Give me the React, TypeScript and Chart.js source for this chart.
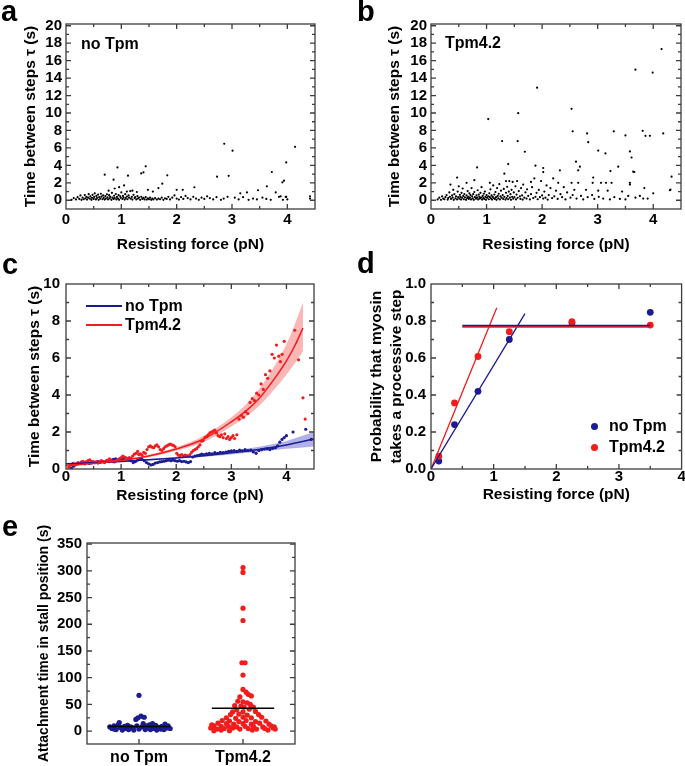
import React, { useEffect, useRef } from "react";
import { Chart, registerables } from "chart.js";

Chart.register(...registerables);

const FONT = '"Liberation Sans", Arial, Helvetica, sans-serif';
const FRAME = "#3c3c3c";
const BLUE = "#1b1b92";
const RED = "#f21c1c";
const RED_BAND = "rgba(242, 40, 40, 0.34)";
const BLUE_BAND = "rgba(40, 40, 190, 0.36)";

// ---------------- panel a : no Tpm, time between steps vs force ----------------
const aPoints: [number, number][] = [
  [0.10, 0.05], [0.14, 0.25], [0.18, 0.10], [0.21, 0.35], [0.24, 0.15], [0.26, 0.55], [0.28, 0.05], [0.30, 0.30],
  [0.32, 0.12], [0.34, 0.60], [0.35, 0.22], [0.37, 0.40], [0.38, 0.08], [0.40, 0.30], [0.41, 0.70], [0.43, 0.18],
  [0.44, 0.45], [0.46, 0.05], [0.47, 0.28], [0.48, 0.62], [0.50, 0.15], [0.51, 0.38], [0.52, 0.80], [0.54, 0.10],
  [0.55, 0.50], [0.56, 0.25], [0.58, 0.65], [0.59, 0.05], [0.60, 0.35], [0.62, 0.18], [0.63, 0.75], [0.64, 0.42],
  [0.66, 0.12], [0.67, 0.55], [0.68, 0.28], [0.70, 0.08], [0.71, 0.48], [0.72, 0.20], [0.74, 0.68], [0.75, 0.33],
  [0.76, 0.10], [0.78, 0.58], [0.79, 0.22], [0.80, 0.40], [0.82, 0.05], [0.83, 0.85], [0.84, 0.30], [0.86, 0.15],
  [0.87, 0.52], [0.88, 0.25], [0.90, 0.72], [0.91, 0.10], [0.92, 0.38], [0.94, 0.20], [0.95, 0.60], [0.96, 0.05],
  [0.98, 0.45], [0.99, 0.28], [1.00, 0.90], [1.02, 0.15], [1.03, 0.50], [1.04, 0.32], [1.06, 0.08], [1.07, 0.70],
  [1.08, 0.25], [1.10, 0.42], [1.11, 0.12], [1.13, 0.55], [1.14, 0.30], [1.16, 1.05], [1.17, 0.18], [1.19, 0.40],
  [1.20, 0.08], [1.22, 0.62], [1.24, 0.25], [1.25, 0.35], [1.27, 0.10], [1.29, 0.48], [1.30, 0.20], [1.32, 0.30],
  [1.34, 0.05], [1.36, 0.40], [1.38, 0.15], [1.40, 0.28], [1.42, 0.10], [1.44, 0.35], [1.46, 0.08], [1.48, 0.22],
  [1.50, 0.12], [1.52, 0.30], [1.54, 0.05], [1.56, 0.18], [1.58, 0.10], [1.61, 0.25], [1.64, 0.08], [1.67, 0.20],
  [1.70, 0.12], [1.73, 0.30], [1.76, 0.05], [1.79, 0.22], [1.82, 0.15], [1.85, 0.40], [1.88, 0.10], [1.92, 0.30],
  [1.96, 0.55], [2.00, 0.20], [2.04, 0.08], [2.08, 0.35], [2.12, 0.15], [2.16, 0.50], [2.20, 0.25], [2.25, 0.10],
  [2.30, 0.40], [2.35, 0.20], [2.40, 0.05], [2.45, 0.30], [2.50, 0.15], [2.55, 0.45], [2.60, 0.25], [2.66, 0.10],
  [2.72, 0.35], [2.80, 0.05], [2.85, 0.20], [2.92, 0.40], [3.05, 0.30], [3.12, 0.10], [3.20, 0.35], [3.30, 0.05],
  [3.38, 0.20], [3.45, 0.10], [3.55, 0.30], [3.62, 0.15], [3.70, 0.05], [3.88, 0.45], [3.92, 0.05], [3.98, 0.40],
  [4.00, 0.10],
  [0.70, 2.93], [0.86, 2.36], [0.93, 3.77], [1.12, 2.82], [1.36, 3.08], [1.40, 3.20], [1.44, 3.89], [1.83, 2.86],
  [1.74, 1.90], [1.67, 1.40], [1.57, 1.00], [1.48, 1.20], [2.86, 6.48], [3.01, 5.68], [2.73, 2.70], [2.94, 2.80],
  [2.32, 1.49], [2.00, 1.20], [2.11, 1.20], [3.15, 0.80], [3.27, 0.90], [3.47, 1.15], [3.63, 1.60], [3.72, 3.24],
  [3.91, 2.06], [3.94, 2.25], [3.98, 4.34], [4.14, 6.13], [3.79, 0.90], [3.85, 0.40], [3.97, 0.40], [4.41, 0.45],
  [4.41, 0.20], [0.77, 1.10], [0.88, 1.35], [0.96, 1.50], [1.05, 1.70], [1.20, 1.10], [1.28, 0.95], [1.10, 1.00],
];

// ---------------- panel b : Tpm4.2, time between steps vs force ----------------
const bPoints: [number, number][] = [
  [0.12, 0.10], [0.15, 0.30], [0.18, 0.05], [0.20, 0.45], [0.22, 0.20], [0.24, 0.12], [0.26, 0.35], [0.28, 0.60],
  [0.30, 0.08], [0.31, 0.25], [0.33, 0.90], [0.34, 0.40], [0.35, 1.80], [0.36, 0.15], [0.38, 0.55], [0.39, 0.30],
  [0.40, 1.20], [0.41, 0.05], [0.42, 0.70], [0.44, 0.22], [0.45, 0.45], [0.47, 2.60], [0.47, 0.10], [0.48, 1.00],
  [0.49, 0.35], [0.50, 1.60], [0.51, 0.18], [0.52, 0.62], [0.53, 0.40], [0.54, 0.08], [0.55, 0.85], [0.56, 0.28],
  [0.57, 1.35], [0.58, 0.50], [0.59, 0.12], [0.60, 0.72], [0.61, 0.33], [0.64, 2.00], [0.63, 0.05], [0.64, 0.55],
  [0.65, 0.25], [0.66, 1.05], [0.67, 0.40], [0.68, 0.15], [0.69, 0.80], [0.70, 0.30], [0.71, 0.60], [0.72, 0.10],
  [0.73, 1.40], [0.74, 0.45], [0.75, 0.22], [0.76, 0.70], [0.77, 0.05], [0.78, 0.95], [0.79, 0.35], [0.78, 2.30],
  [0.81, 0.18], [0.82, 0.55], [0.83, 0.30], [0.84, 1.15], [0.85, 0.10], [0.86, 0.65], [0.87, 0.40], [0.88, 0.20],
  [0.89, 0.85], [0.90, 0.30], [0.91, 1.50], [0.92, 0.08], [0.93, 0.50], [0.94, 0.25], [0.95, 0.75], [0.96, 0.15],
  [0.97, 1.00], [0.98, 0.38], [0.99, 0.05], [1.00, 0.60], [1.01, 0.28], [1.06, 2.00], [1.03, 0.45], [1.04, 0.12],
  [1.05, 0.80], [1.06, 0.35], [1.07, 1.25], [1.08, 0.20], [1.09, 0.55], [1.10, 0.08], [1.11, 0.40], [1.12, 1.70],
  [1.13, 0.25], [1.14, 0.65], [1.15, 0.15], [1.16, 0.95], [1.17, 0.35], [1.18, 0.05], [1.19, 1.40], [1.20, 0.50],
  [1.21, 0.22], [1.22, 0.75], [1.23, 1.85], [1.24, 0.10], [1.25, 0.45], [1.26, 1.10], [1.27, 0.30], [1.35, 2.20],
  [1.29, 0.60], [1.30, 0.15], [1.31, 1.30], [1.32, 0.40], [1.32, 3.05], [1.34, 0.08], [1.35, 0.85], [1.36, 0.25],
  [1.37, 1.55], [1.38, 0.50], [1.39, 0.12], [1.40, 1.00], [1.41, 2.20], [1.42, 0.30], [1.43, 0.70], [1.44, 0.05],
  [1.45, 1.20], [1.46, 0.40], [1.47, 2.10], [1.48, 0.18], [1.49, 0.90], [1.50, 0.35], [1.52, 1.60], [1.53, 0.10],
  [1.54, 0.65], [1.55, 2.20], [1.56, 0.28], [1.58, 1.05], [1.60, 0.45], [1.61, 0.15], [1.62, 1.40], [1.64, 0.55],
  [1.65, 0.08], [1.66, 1.80], [1.68, 0.30], [1.70, 0.90], [1.72, 0.20], [1.73, 1.25], [1.75, 0.50], [1.80, 2.10],
  [1.78, 0.10], [1.80, 0.70], [1.82, 1.50], [1.84, 0.25], [1.86, 2.50], [1.88, 0.40], [1.90, 0.85], [1.92, 0.12],
  [1.94, 1.20], [1.96, 0.35], [1.98, 2.20], [2.00, 0.55], [2.02, 0.20], [2.04, 1.00], [2.06, 0.30], [2.08, 1.70],
  [2.10, 0.08], [2.12, 0.60], [2.15, 1.40], [2.18, 0.25], [2.20, 2.50], [2.22, 0.45], [2.25, 1.10], [2.28, 0.15],
  [2.29, 2.00], [2.33, 0.70], [2.36, 0.35], [2.39, 1.50], [2.42, 0.10], [2.45, 0.90], [2.53, 2.00], [2.51, 0.30],
  [2.55, 0.60], [2.58, 1.20], [2.62, 0.20], [2.65, 2.00], [2.70, 0.50], [2.74, 0.10], [2.79, 1.20], [2.82, 0.35],
  [2.91, 2.00], [2.90, 0.60], [2.94, 0.15], [2.92, 2.60], [3.02, 0.40], [3.06, 2.00], [3.10, 0.20], [3.01, 1.10],
  [3.15, 2.00], [3.22, 0.10], [3.18, 1.10], [3.30, 0.35], [3.25, 2.00], [3.40, 0.15], [3.44, 1.00], [3.50, 0.10],
  [3.55, 0.50], [3.58, 2.00], [3.68, 0.30], [3.76, 0.50], [3.82, 0.20], [3.84, 1.40], [3.90, 0.20], [4.00, 0.80],
  [4.30, 1.15], [4.31, 1.22],
  [1.03, 9.30], [1.28, 6.78], [1.57, 9.98], [1.56, 6.78], [1.69, 5.56], [1.91, 12.90], [1.88, 3.96], [2.02, 3.70],
  [2.02, 3.23], [1.39, 4.15], [0.83, 3.77], [2.53, 10.48], [2.55, 7.90], [2.81, 7.66], [2.83, 6.66], [3.01, 5.70],
  [3.14, 5.37], [3.29, 7.90], [3.50, 7.43], [3.58, 5.60], [3.61, 4.90], [3.66, 3.24], [3.68, 14.97], [3.99, 14.63],
  [4.15, 17.33], [3.81, 7.96], [3.86, 7.39], [3.94, 7.39], [4.18, 7.66], [4.33, 2.70], [2.61, 4.42], [2.65, 3.43],
  [2.68, 3.85], [2.32, 3.43], [3.37, 3.85], [3.23, 3.35], [3.64, 3.28], [3.58, 1.80],
];

// ---------------- panel c : running values and exponential fits ----------------
const cRedPoints: [number, number][] = [
  [0.05, 0.10], [0.08, 0.20], [0.10, 0.25], [0.13, 0.30], [0.16, 0.22], [0.19, 0.28], [0.22, 0.35], [0.25, 0.30],
  [0.28, 0.38], [0.31, 0.42], [0.34, 0.35], [0.37, 0.40], [0.40, 0.45], [0.43, 0.50], [0.46, 0.42], [0.49, 0.38],
  [0.52, 0.35], [0.55, 0.40], [0.58, 0.32], [0.61, 0.38], [0.64, 0.45], [0.67, 0.40], [0.70, 0.35], [0.73, 0.42],
  [0.76, 0.48], [0.79, 0.55], [0.82, 0.45], [0.85, 0.40], [0.88, 0.38], [0.91, 0.45], [0.94, 0.50], [0.97, 0.55],
  [1.00, 0.62], [1.03, 0.70], [1.06, 0.65], [1.09, 0.60], [1.12, 0.55], [1.15, 0.62], [1.18, 0.58], [1.21, 0.70],
  [1.24, 0.80], [1.27, 0.85], [1.30, 0.95], [1.32, 0.78], [1.35, 0.82], [1.38, 0.75], [1.41, 0.90], [1.44, 0.85],
  [1.47, 1.05], [1.50, 1.20], [1.53, 1.25], [1.56, 1.18], [1.59, 1.15], [1.62, 1.25], [1.65, 1.30], [1.68, 1.20],
  [1.71, 1.05], [1.74, 1.00], [1.77, 1.10], [1.80, 1.20], [1.83, 1.25], [1.86, 1.30], [1.89, 1.35], [1.92, 1.30],
  [1.95, 1.28], [1.98, 1.20], [2.01, 0.85], [2.04, 0.75], [2.07, 0.72], [2.10, 0.78], [2.13, 0.70], [2.16, 0.75],
  [2.19, 0.72], [2.22, 0.70], [2.25, 0.78], [2.28, 0.90], [2.31, 1.00], [2.34, 1.05], [2.37, 1.10], [2.40, 1.20],
  [2.43, 1.30], [2.46, 1.50], [2.49, 1.55], [2.52, 1.70], [2.55, 1.75], [2.58, 1.85], [2.61, 1.95], [2.64, 2.00],
  [2.67, 2.05], [2.70, 2.10], [2.73, 1.95], [2.76, 1.80], [2.79, 1.75], [2.82, 1.85], [2.85, 1.70], [2.88, 1.90],
  [2.91, 1.65], [2.94, 1.75], [2.97, 1.60], [3.00, 1.70], [3.03, 1.80], [3.06, 1.65], [3.10, 1.85], [3.14, 2.70],
  [3.18, 2.90], [3.22, 2.80], [3.26, 3.10], [3.30, 3.00], [3.34, 3.60], [3.38, 3.80], [3.42, 3.70], [3.46, 4.10],
  [3.50, 4.00], [3.54, 4.60], [3.58, 4.30], [3.62, 5.10], [3.66, 4.90], [3.70, 5.30], [3.74, 6.20], [3.78, 6.00],
  [3.82, 6.70], [3.86, 6.10], [3.89, 5.80], [3.92, 6.20], [3.96, 6.90], [4.15, 7.50], [4.22, 5.90], [4.30, 3.85],
  [4.34, 2.70],
];
const cBluePoints: [number, number][] = [
  [0.10, 0.05], [0.14, 0.15], [0.18, 0.25], [0.22, 0.28], [0.26, 0.30], [0.30, 0.32], [0.34, 0.28], [0.38, 0.35],
  [0.42, 0.30], [0.46, 0.33], [0.50, 0.38], [0.54, 0.35], [0.58, 0.40], [0.62, 0.36], [0.66, 0.42], [0.70, 0.38],
  [0.74, 0.45], [0.78, 0.40], [0.82, 0.48], [0.86, 0.52], [0.90, 0.55], [0.94, 0.50], [0.98, 0.55], [1.02, 0.52],
  [1.06, 0.58], [1.10, 0.55], [1.14, 0.50], [1.18, 0.45], [1.22, 0.35], [1.26, 0.40], [1.30, 0.48], [1.34, 0.55],
  [1.38, 0.52], [1.42, 0.45], [1.46, 0.35], [1.50, 0.28], [1.54, 0.22], [1.58, 0.25], [1.62, 0.32], [1.66, 0.35],
  [1.70, 0.38], [1.74, 0.40], [1.78, 0.42], [1.82, 0.45], [1.86, 0.48], [1.90, 0.45], [1.94, 0.48], [1.98, 0.45],
  [2.02, 0.42], [2.06, 0.45], [2.10, 0.40], [2.14, 0.42], [2.18, 0.38], [2.22, 0.35], [2.26, 0.40], [2.30, 0.65],
  [2.34, 0.70], [2.38, 0.72], [2.42, 0.75], [2.46, 0.80], [2.50, 0.78], [2.55, 0.82], [2.60, 0.85], [2.65, 0.82],
  [2.70, 0.88], [2.75, 0.85], [2.80, 0.90], [2.85, 0.88], [2.90, 0.92], [2.95, 0.95], [3.00, 0.98], [3.05, 1.00],
  [3.10, 0.95], [3.15, 1.02], [3.20, 0.98], [3.25, 1.05], [3.30, 1.00], [3.35, 1.02], [3.40, 0.92], [3.45, 0.85],
  [3.50, 1.00], [3.55, 1.05], [3.60, 1.08], [3.65, 1.10], [3.70, 1.05], [3.75, 1.12], [3.80, 1.15], [3.84, 1.25],
  [3.88, 1.45], [3.92, 1.60], [3.96, 1.70], [4.00, 1.80], [4.12, 2.00], [4.35, 2.15], [4.45, 1.60],
];
const cRedFitX = [0, 0.5, 1.0, 1.5, 2.0, 2.5, 3.0, 3.25, 3.5, 3.75, 4.0, 4.15, 4.3];
const cRedFit = [0.20, 0.30, 0.46, 0.70, 1.08, 1.62, 2.55, 3.10, 3.80, 4.75, 5.85, 6.65, 7.62];
const cRedUpper = [0.22, 0.33, 0.50, 0.77, 1.18, 1.80, 2.80, 3.45, 4.30, 5.40, 6.75, 7.80, 9.00];
const cRedLower = [0.18, 0.27, 0.42, 0.64, 0.98, 1.46, 2.30, 2.78, 3.40, 4.20, 5.10, 5.70, 6.35];
const cBlueFitX = [0, 0.5, 1.0, 1.5, 2.0, 2.5, 3.0, 3.5, 4.0, 4.5];
const cBlueFit = [0.28, 0.34, 0.41, 0.50, 0.60, 0.72, 0.88, 1.06, 1.30, 1.62];
const cBlueUpper = [0.31, 0.37, 0.44, 0.54, 0.65, 0.79, 0.97, 1.20, 1.52, 2.00];
const cBlueLower = [0.25, 0.31, 0.38, 0.46, 0.55, 0.66, 0.79, 0.93, 1.09, 1.22];
const cSeries = ["no Tpm", "Tpm4.2"];

// ---------------- panel d : probability of a processive step ----------------
const dForce = [0.125, 0.375, 0.75, 1.25, 2.25, 3.5];
const dNoTpm = [0.043, 0.24, 0.42, 0.70, 0.79, 0.847];
const dTpm = [0.069, 0.357, 0.608, 0.742, 0.796, 0.778];
const dNoTpmRiseX = [0, 1.5];
const dNoTpmRiseY = [0, 0.84];
const dTpmRiseX = [0, 1.05];
const dTpmRiseY = [0, 0.872];
const dPlateauX = [0.5, 3.5];
const dNoTpmPlateau = [0.776, 0.776];
const dTpmPlateau = [0.769, 0.769];

// ---------------- panel e : attachment time in stall position ----------------
const eCategories = ["no Tpm", "Tpm4.2"];
const eNoTpm: [number, number][] = [
  [0.72, 8], [0.74, 5], [0.76, 10], [0.78, 3], [0.80, 12], [0.81, 16], [0.82, 7], [0.84, 2], [0.86, 9], [0.87, 5],
  [0.89, 11], [0.90, 3], [0.92, 8], [0.94, 6], [0.95, 2], [0.97, 22], [0.98, 10], [0.99, 25], [1.00, 67], [1.00, 4],
  [1.02, 28], [1.03, 8], [1.04, 14], [1.05, 26], [1.06, 3], [1.07, 10], [1.08, 6], [1.10, 12], [1.11, 3], [1.12, 8],
  [1.14, 5], [1.16, 11], [1.17, 2], [1.19, 7], [1.21, 4], [1.22, 9], [1.24, 3], [1.25, 13], [1.27, 6], [1.28, 10],
  [1.30, 5], [0.76, 4], [0.88, 7], [1.13, 14],
];
const eTpm: [number, number][] = [
  [2.00, 306], [2.00, 297], [2.00, 230], [2.00, 207], [1.99, 128], [2.02, 128], [2.00, 105],
  [2.00, 78], [2.03, 73], [2.05, 69], [1.97, 64], [2.08, 66], [1.95, 56], [2.00, 55], [2.04, 53], [2.07, 50],
  [1.92, 48], [1.98, 47], [2.01, 45], [2.10, 45], [1.94, 40], [2.06, 41], [1.90, 36], [2.00, 36], [2.12, 37],
  [1.88, 31], [1.96, 32], [2.04, 30], [2.15, 31], [1.84, 25], [1.93, 24], [2.00, 26], [2.08, 25], [2.18, 26],
  [1.80, 20], [1.87, 19], [1.96, 18], [2.03, 20], [2.12, 18], [2.22, 19], [1.76, 15], [1.84, 14], [1.91, 13],
  [2.00, 14], [2.08, 13], [2.16, 15], [2.25, 13], [1.72, 10], [1.79, 9], [1.86, 9], [1.94, 8], [2.02, 9],
  [2.10, 9], [2.19, 8], [2.27, 10], [1.69, 6], [1.75, 4], [1.82, 5], [1.90, 6], [1.97, 4], [2.05, 5], [2.13, 4],
  [2.21, 5], [2.29, 6], [1.72, 1], [1.79, 2], [1.87, 1], [2.09, 2], [2.24, 2], [2.31, 4], [1.70, 12], [2.30, 8],
];
const eMeanNoTpm = 8.75;
const eMeanTpm = 43;
const eMeanHalfWidth = 0.3;

// ---------------- helpers ----------------
const xy = (p: [number, number][]) => p.map(([x, y]) => ({ x, y }));
const zipXY = (xs: number[], ys: number[]) => xs.map((x, i) => ({ x, y: ys[i] }));

const framePlugin = {
  id: "frame",
  afterDatasetsDraw(chart: any, _args: any, o: any) {
    const { ctx, chartArea: ca } = chart;
    const sx = chart.scales.x;
    const sy = chart.scales.y;
    ctx.save();
    ctx.strokeStyle = FRAME;
    ctx.lineWidth = 1.3;
    ctx.beginPath();
    const seg = (x1: number, y1: number, x2: number, y2: number) => {
      ctx.moveTo(x1, y1);
      ctx.lineTo(x2, y2);
    };
    const near = (a: number, b: number) => Math.abs(a - b) < 1e-6;
    const each = (scale: any, step: number | null, fn: (v: number, major: boolean) => void) => {
      const majors: number[] = scale.ticks.map((t: any) => t.value);
      majors.forEach((v) => fn(v, true));
      if (step) {
        const start = Math.ceil(scale.min / step - 1e-9);
        for (let k = start; k * step <= scale.max + 1e-9; k++) {
          const v = k * step;
          if (majors.some((m) => near(m, v))) continue;
          fn(v, false);
        }
      }
    };
    each(sx, o.xMinor, (v, major) => {
      const p = sx.getPixelForValue(v);
      if (p <= ca.left + 0.5 || p >= ca.right - 0.5) return;
      const L = major ? 5 : 3;
      seg(p, ca.bottom, p, ca.bottom - L);
      if (o.xTop) seg(p, ca.top, p, ca.top + L);
    });
    each(sy, o.yMinor, (v, major) => {
      const p = sy.getPixelForValue(v);
      if (p <= ca.top + 0.5 || p >= ca.bottom - 0.5) return;
      const L = major ? 5 : 3;
      seg(ca.left, p, ca.left + L, p);
      seg(ca.right, p, ca.right - L, p);
    });
    ctx.stroke();
    ctx.strokeRect(ca.left, ca.top, ca.right - ca.left, ca.bottom - ca.top);
    ctx.restore();
  },
};

type AxisCfg = {
  min: number;
  max: number;
  step: number;
  tickPad: number;
  tickSize?: number;
  title: string | string[];
  titlePad: number;
  titleSize?: number;
  titleLH?: number;
  fmt?: (v: number) => string;
  ticksAt?: number[];
};
type Layout = { yW: number; xH: number; top: number; right: number };

function makeConfig(datasets: any[], lay: Layout, xa: AxisCfg, ya: AxisCfg, frame: any) {
  const axis = (a: AxisCfg, isX: boolean) => {
    const ticks: any = {
      stepSize: a.step,
      includeBounds: false,
      autoSkip: false,
      maxRotation: 0,
      minRotation: 0,
      color: "#000",
      font: { family: FONT, size: a.tickSize ?? 15, weight: "bold", lineHeight: 1 },
      padding: a.tickPad,
    };
    if (a.fmt) ticks.callback = (v: any) => a.fmt!(Number(v));
    const cfg: any = {
      type: "linear",
      position: isX ? "bottom" : "left",
      min: a.min,
      max: a.max,
      grid: { display: false, drawTicks: false },
      border: { display: false },
      ticks,
      title: {
        display: !!(Array.isArray(a.title) ? a.title.length : a.title),
        text: a.title,
        color: "#000",
        font: { family: FONT, size: a.titleSize ?? 15.5, weight: "bold", lineHeight: a.titleLH ?? 1 },
        padding: isX ? { top: 0, bottom: a.titlePad } : { top: a.titlePad, bottom: 0 },
      },
      afterFit: (s: any) => {
        if (isX) {
          s.height = lay.xH;
          s.paddingLeft = 0;
          s.paddingRight = 0;
        } else {
          s.width = lay.yW;
          s.paddingTop = 0;
          s.paddingBottom = 0;
        }
      },
    };
    if (a.ticksAt) {
      const vals = a.ticksAt;
      cfg.afterBuildTicks = (s: any) => {
        s.ticks = vals.map((v) => ({ value: v }));
      };
    }
    return cfg;
  };
  return {
    type: "scatter",
    data: { datasets },
    options: {
      responsive: false,
      animation: false,
      events: [],
      layout: { padding: { left: 0, top: lay.top, right: lay.right, bottom: 0 } },
      plugins: { legend: { display: false }, tooltip: { enabled: false }, frame },
      scales: { x: axis(xa, true), y: axis(ya, false) },
    },
    plugins: [framePlugin],
  };
}

const dots = (data: any[], color: string, r: number) => ({
  type: "scatter",
  data,
  backgroundColor: color,
  borderColor: color,
  borderWidth: 0,
  pointRadius: r,
  pointHoverRadius: r,
  showLine: false,
});
const line = (data: any[], color: string, w: number, smooth = false) => ({
  type: "line",
  data,
  borderColor: color,
  backgroundColor: color,
  borderWidth: w,
  pointRadius: 0,
  fill: false,
  cubicInterpolationMode: smooth ? "monotone" : "default",
  tension: 0,
});
const band = (data: any[], color: string, fill: any) => ({
  type: "line",
  data,
  borderWidth: 0,
  borderColor: "rgba(0,0,0,0)",
  backgroundColor: color,
  pointRadius: 0,
  fill,
  cubicInterpolationMode: "monotone",
});

const timeTitle = "Time between steps \u03c4 (s)";
const forceTitle = "Resisting force (pN)";

function configA() {
  return makeConfig(
    [dots(xy(aPoints), "#000", 1.1)],
    { yW: 66, xH: 53, top: 24, right: 27 },
    { min: 0, max: 4.5, step: 1, tickPad: 3, title: forceTitle, titlePad: 10 },
    { min: -1, max: 20.2, step: 2, tickPad: 4, title: timeTitle, titlePad: 23 },
    { xMinor: 0.5, yMinor: 1, xTop: true }
  );
}
function configB() {
  return makeConfig(
    [dots(xy(bPoints), "#000", 1.1)],
    { yW: 66, xH: 53, top: 24, right: 4 },
    { min: 0, max: 4.5, step: 1, tickPad: 3, title: forceTitle, titlePad: 10 },
    { min: -1, max: 20.2, step: 2, tickPad: 4, title: timeTitle, titlePad: 22 },
    { xMinor: 0.5, yMinor: 1, xTop: true }
  );
}
function configC() {
  return makeConfig(
    [
      line(zipXY(cRedFitX, cRedFit), RED, 1.5, true),
      line(zipXY(cBlueFitX, cBlueFit), BLUE, 1.5, true),
      dots(xy(cRedPoints), RED, 1.6),
      dots(xy(cBluePoints), BLUE, 1.6),
      band(zipXY(cRedFitX, cRedUpper), RED_BAND, "+1"),
      band(zipXY(cRedFitX, cRedLower), RED_BAND, false),
      band(zipXY(cBlueFitX, cBlueUpper), BLUE_BAND, "+1"),
      band(zipXY(cBlueFitX, cBlueLower), BLUE_BAND, false),
    ],
    { yW: 66, xH: 55, top: 22, right: 28 },
    { min: 0, max: 4.5, step: 1, tickPad: 0, title: forceTitle, titlePad: 21 },
    { min: 0, max: 10, step: 2, tickPad: 6, title: timeTitle, titlePad: 27 },
    { xMinor: 0.5, yMinor: 1, xTop: true }
  );
}
function configD() {
  return makeConfig(
    [
      line(zipXY(dPlateauX, dNoTpmPlateau), BLUE, 1.5),
      line(zipXY(dPlateauX, dTpmPlateau), RED, 2),
      line(zipXY(dNoTpmRiseX, dNoTpmRiseY), BLUE, 1.3),
      line(zipXY(dTpmRiseX, dTpmRiseY), RED, 1.3),
      dots(zipXY(dForce, dTpm), RED, 3.4),
      dots(zipXY(dForce, dNoTpm), BLUE, 3.4),
    ],
    { yW: 89, xH: 55, top: 22, right: 3 },
    { min: 0, max: 4, step: 1, tickPad: 0, title: forceTitle, titlePad: 22 },
    {
      min: 0,
      max: 1,
      step: 0.2,
      tickPad: 5,
      title: ["Probability that myosin", "takes a processive step"],
      titlePad: 25,
      titleLH: 1.28,
      fmt: (v) => v.toFixed(1),
    },
    { xMinor: 0.5, yMinor: 0.1, xTop: true }
  );
}
function configE() {
  return makeConfig(
    [
      line(
        [
          { x: 1 - eMeanHalfWidth, y: eMeanNoTpm },
          { x: 1 + eMeanHalfWidth, y: eMeanNoTpm },
        ],
        "#000",
        1.5
      ),
      line(
        [
          { x: 2 - eMeanHalfWidth, y: eMeanTpm },
          { x: 2 + eMeanHalfWidth, y: eMeanTpm },
        ],
        "#000",
        1.5
      ),
      dots(xy(eTpm), RED, 2.6),
      dots(xy(eNoTpm), BLUE, 2.6),
    ],
    { yW: 87, xH: 22, top: 19, right: 47 },
    {
      min: 0.5,
      max: 2.5,
      step: 1,
      tickPad: 6,
      tickSize: 16,
      title: "",
      titlePad: 0,
      ticksAt: eCategories.map((_, i) => i + 1),
      fmt: (v) => eCategories[Math.round(v) - 1] ?? "",
    },
    { min: -24, max: 352, step: 50, tickPad: 5, title: "Attachment time in stall position (s)", titlePad: 37, titleSize: 14 },
    { xMinor: null, yMinor: 25, xTop: false }
  );
}

function Panel(props: { left: number; top: number; width: number; height: number; make: () => any }) {
  const ref = useRef<HTMLCanvasElement>(null);
  useEffect(() => {
    const chart = new Chart(ref.current as HTMLCanvasElement, props.make());
    return () => chart.destroy();
  }, []);
  return (
    <canvas
      ref={ref}
      width={props.width}
      height={props.height}
      style={{ position: "absolute", left: props.left, top: props.top, width: props.width, height: props.height }}
    />
  );
}

const txt = (left: number, centerY: number, s: string, size = 16, color = "#000") => (
  <div
    style={{
      position: "absolute",
      left,
      top: centerY - size / 2,
      fontFamily: FONT,
      fontWeight: "bold",
      fontSize: size,
      lineHeight: `${size}px`,
      color,
      whiteSpace: "nowrap",
    }}
  >
    {s}
  </div>
);

const letter = (left: number, top: number, s: string) => (
  <div
    style={{
      position: "absolute",
      left,
      top,
      fontFamily: FONT,
      fontWeight: "bold",
      fontSize: 29,
      lineHeight: "29px",
      color: "#000",
    }}
  >
    {s}
  </div>
);

export default function App() {
  return (
    <div
      style={{
        position: "absolute",
        left: 0,
        top: 0,
        width: 685,
        height: 766,
        background: "#fff",
        overflow: "hidden",
      }}
    >
      <Panel left={0} top={0} width={342} height={262} make={configA} />
      <Panel left={365} top={0} width={320} height={262} make={configB} />
      <Panel left={0} top={262} width={342} height={262} make={configC} />
      <Panel left={342} top={262} width={343} height={262} make={configD} />
      <Panel left={0} top={524} width={342} height={242} make={configE} />

      {letter(1, -3, "a")}
      {letter(357, -3, "b")}
      {letter(2, 250, "c")}
      {letter(357, 249, "d")}
      {letter(2, 512, "e")}

      {txt(81, 44, "no Tpm")}
      {txt(445, 43, "Tpm4.2")}

      <div style={{ position: "absolute", left: 86, top: 305, width: 36, height: 2, background: BLUE }} />
      {txt(125, 306, cSeries[0])}
      <div style={{ position: "absolute", left: 86, top: 324, width: 36, height: 2, background: RED }} />
      {txt(125, 325, cSeries[1])}

      <div
        style={{ position: "absolute", left: 591, top: 423, width: 7, height: 7, borderRadius: 4, background: BLUE }}
      />
      {txt(609, 426, cSeries[0])}
      <div
        style={{ position: "absolute", left: 591, top: 444, width: 7, height: 7, borderRadius: 4, background: RED }}
      />
      {txt(609, 447, cSeries[1])}
    </div>
  );
}
